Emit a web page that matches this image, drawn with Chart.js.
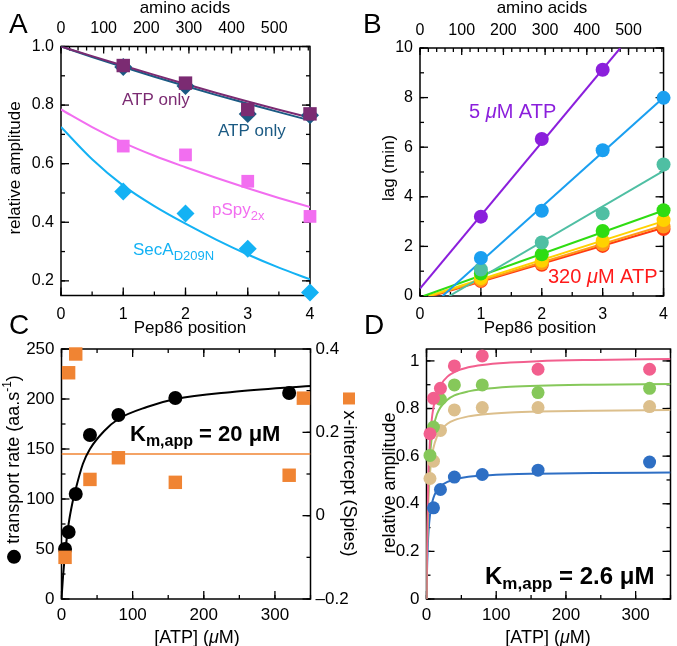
<!DOCTYPE html>
<html>
<head>
<meta charset="utf-8">
<script src="https://cdn.jsdelivr.net/npm/chart.js@4.4.1/dist/chart.umd.min.js"></script>
<style>
  body { margin: 0; background: #fff; }
  #page { position: relative; width: 677px; height: 646px; overflow: hidden; background: #fff; }
  #page canvas { position: absolute; }
</style>
</head>
<body>
<div id="page">
  <canvas id="cA" width="338" height="340" style="left:0;top:0"></canvas>
  <canvas id="cB" width="340" height="340" style="left:337px;top:0"></canvas>
  <canvas id="cC" width="365" height="346" style="left:0;top:300px"></canvas>
  <canvas id="cD" width="340" height="346" style="left:337px;top:300px"></canvas>
</div>
<script>
const FONT = "'Liberation Sans', Arial, Helvetica, sans-serif";
Chart.defaults.font.family = FONT;
Chart.defaults.color = "#000";
Chart.defaults.animation = false;

// ---------- data ----------
const pepPos = [1, 2, 3, 4];
const aaAxisMax = 584;

// panel A
const ampAtpSquare = [0.935, 0.875, 0.785, 0.77];
const ampAtpDiamond = [0.93, 0.865, 0.77, 0.765];
const ampSpy = [0.66, 0.63, 0.54, 0.42];
const ampSecA = [0.505, 0.43, 0.31, 0.16];
const fitPosA = [0, 0.5, 1, 1.5, 2, 2.5, 3, 3.5, 4];
const fitAtpSquare = [1.0, 0.967, 0.935, 0.903, 0.872, 0.841, 0.812, 0.784, 0.757];
const fitAtpDiamond = [1.0, 0.964, 0.93, 0.897, 0.865, 0.834, 0.805, 0.776, 0.748];
const fitSpy = [0.785, 0.725, 0.672, 0.627, 0.588, 0.551, 0.516, 0.483, 0.452];
const fitSecA = [0.725, 0.615, 0.525, 0.455, 0.395, 0.34, 0.29, 0.245, 0.205];

// panel B (lag vs position, one series per ATP concentration)
const lag5 = [3.2, 6.33, 9.12, null];
const lag10 = [1.53, 3.44, 5.88, 7.99];
const lag20 = [1.07, 2.16, 3.33, 5.3];
const lag40 = [0.91, 1.68, 2.62, 3.46];
const lag80 = [0.72, 1.42, 2.23, 3.06];
const lag160 = [0.64, 1.32, 2.08, 2.8];
const lag320 = [0.6, 1.26, 2.02, 2.7];
const lineX5 = [0, 3.29], lineY5 = [0.3, 10];
const lineX10 = [0.37, 4], lineY10 = [0, 8.0];
const lineX20 = [0.48, 4], lineY20 = [0, 5.05];
const lineX40 = [0.06, 4], lineY40 = [0, 3.45];
const lineX80 = [0.14, 4], lineY80 = [0, 3.02];
const lineX160 = [0.17, 4], lineY160 = [0, 2.84];
const lineX320 = [0.2, 4], lineY320 = [0, 2.75];

// panel C
const atpConc = [5, 10, 20, 40, 80, 160, 320];
const transportRate = [50, 67, 105, 164, 184, 201, 206];
const xInterConc = [5, 10, 20, 40, 80, 160, 320, 340];
const xIntercept = [-0.1, 0.343, 0.388, 0.087, 0.139, 0.08, 0.097, 0.282];
const xInterMean = 0.148;
const fitConcC = [0, 2, 5, 10, 15, 20, 30, 40, 60, 80, 120, 160, 240, 350];
const fitRate = [0, 21, 45, 75, 95, 110, 135, 150, 168, 180, 192, 200, 207, 213];

// panel D
const ampPink = [0.694, 0.843, 0.885, 0.979, 1.021, 0.965, 0.965];
const ampGreen = [0.603, 0.722, 0.839, 0.899, 0.899, 0.867, 0.885];
const ampTan = [0.506, 0.579, 0.708, 0.794, 0.804, 0.804, 0.808];
const ampBlue = [null, 0.383, 0.46, 0.512, 0.523, 0.541, 0.575];
const fitConcD = [0, 0.5, 1, 2, 3, 5, 7, 10, 15, 20, 30, 40, 60, 80, 120, 160, 240, 350];
const fitPink = [0, 0.164, 0.282, 0.441, 0.544, 0.668, 0.740, 0.806, 0.865, 0.898, 0.934, 0.953, 0.973, 0.983, 0.993, 0.999, 1.004, 1.008];
const fitGreen = [0, 0.147, 0.253, 0.396, 0.488, 0.599, 0.664, 0.722, 0.776, 0.805, 0.837, 0.855, 0.872, 0.881, 0.891, 0.896, 0.900, 0.903];
const fitTan = [0, 0.129, 0.222, 0.348, 0.429, 0.526, 0.583, 0.635, 0.682, 0.708, 0.736, 0.751, 0.767, 0.775, 0.783, 0.787, 0.791, 0.794];
const fitBlue = [0, 0.086, 0.149, 0.233, 0.287, 0.352, 0.390, 0.425, 0.456, 0.474, 0.492, 0.502, 0.513, 0.518, 0.524, 0.526, 0.529, 0.531];

// ---------- helpers ----------
const pts = (xs, ys) => xs.map((x, i) => ({ x, y: ys[i] })).filter(p => p.y != null);

function marks(label, xs, ys, color, style, r, extra) {
  return Object.assign({
    label, data: pts(xs, ys), backgroundColor: color, borderColor: color, borderWidth: 0,
    pointStyle: style, pointRadius: r, pointHoverRadius: r, showLine: false, order: 0, clip: false
  }, extra || {});
}
function curve(label, xs, ys, color, width, extra) {
  return Object.assign({
    label, data: pts(xs, ys), borderColor: color, backgroundColor: color, borderWidth: width || 2,
    pointRadius: 0, showLine: true, cubicInterpolationMode: "monotone", order: 1
  }, extra || {});
}
const fixW = w => ({ afterFit(s) { s.width = w; } });
const fixH = h => ({ afterFit(s) { s.height = h; } });
const noGrid = { display: false, drawTicks: false, tickLength: 0 };
const shortNum = v => String(+v.toFixed(1));

// inward ticks and box
const frame = {
  id: "frame",
  beforeDatasetsDraw(chart, args, o) {
    const ctx = chart.ctx, a = chart.chartArea;
    ctx.save();
    ctx.strokeStyle = "#000";
    ctx.lineWidth = 1.5;
    ctx.strokeRect(a.left, a.top, a.right - a.left, a.bottom - a.top);
    ctx.lineWidth = 1.3;
    ["left", "right", "top", "bottom"].forEach(side => {
      const t = o[side];
      if (!t) return;
      const s = chart.scales[t.scale];
      const lens = t.len || [8, 4];
      [[t.major, lens[0]], [t.minor, lens[1]]].forEach(([step, len]) => {
        if (!step) return;
        const i0 = Math.ceil(s.min / step - 1e-6), i1 = Math.floor(s.max / step + 1e-6);
        for (let i = i0; i <= i1; i++) {
          const p = s.getPixelForValue(i * step);
          ctx.beginPath();
          if (side === "left") { ctx.moveTo(a.left, p); ctx.lineTo(a.left + len, p); }
          if (side === "right") { ctx.moveTo(a.right, p); ctx.lineTo(a.right - len, p); }
          if (side === "top") { ctx.moveTo(p, a.top); ctx.lineTo(p, a.top + len); }
          if (side === "bottom") { ctx.moveTo(p, a.bottom); ctx.lineTo(p, a.bottom - len); }
          ctx.stroke();
        }
      });
    });
    ctx.restore();
  }
};

// free text (page coordinates), with subscripts and markers
function drawNote(ctx, it) {
  const size = it.size || 17;
  const segs = it.segs.map(s => (typeof s === "string" ? { t: s } : s));
  const fontOf = s => `${s.italic ? "italic " : ""}${it.bold ? "bold " : ""}${s.size || size}px ${FONT}`;
  const widthOf = s => {
    if (s.mark) return s.w;
    ctx.font = fontOf(s);
    return ctx.measureText(s.t).width;
  };
  ctx.save();
  ctx.translate(it.x, it.y);
  if (it.rot) ctx.rotate(it.rot * Math.PI / 180);
  ctx.textBaseline = it.rot ? "middle" : "alphabetic";
  const total = segs.reduce((w, s) => w + widthOf(s), 0);
  let x = it.align === "center" ? -total / 2 : 0;
  segs.forEach(s => {
    const w = widthOf(s);
    ctx.fillStyle = s.color || it.color || "#000";
    if (s.mark === "circle") {
      ctx.beginPath(); ctx.arc(x + w / 2, 0, s.r, 0, 2 * Math.PI); ctx.fill();
    } else if (s.mark === "square") {
      ctx.fillRect(x + w / 2 - s.r, -s.r, 2 * s.r, 2 * s.r);
    } else {
      ctx.font = fontOf(s);
      ctx.fillText(s.t, x, s.dy || 0);
    }
    x += w;
  });
  ctx.restore();
}
// items are kept out of chart options so the option resolver leaves them alone
function notes(items, dx, dy) {
  return {
    id: "notes",
    afterDraw(chart) {
      const ctx = chart.ctx;
      ctx.save();
      ctx.translate(-dx, -dy);
      items.forEach(it => drawNote(ctx, it));
      ctx.restore();
    }
  };
}

function baseOptions(extra) {
  return Object.assign({ responsive: false, devicePixelRatio: 1, animation: false, events: [] }, extra);
}
const tickFontAB = { size: 16 };
const tickFontCD = { size: 17 };
const MU = { t: "\u03bc", italic: true };
const hidden = { legend: { display: false }, tooltip: { enabled: false } };

// ---------- panel A ----------
new Chart(document.getElementById("cA"), {
  type: "scatter",
  data: {
    datasets: [
      marks("ATP only", pepPos, ampAtpSquare, "#7b2b72", "rect", 9.5),
      marks("ATP only (2)", pepPos, ampAtpDiamond, "#1b5a83", "rectRot", 9, { order: 0.5 }),
      marks("pSpy2x", pepPos, ampSpy, "#f26ef0", "rect", 9),
      marks("SecA D209N", pepPos, ampSecA, "#14b2f4", "rectRot", 9),
      curve("fit 1", fitPosA, fitAtpSquare, "#7b2b72", 2),
      curve("fit 2", fitPosA, fitAtpDiamond, "#1b5a83", 2),
      curve("fit 3", fitPosA, fitSpy, "#f26ef0", 2),
      curve("fit 4", fitPosA, fitSecA, "#14b2f4", 2)
    ]
  },
  options: baseOptions({
    layout: { padding: { right: 28 } },
    scales: {
      x: Object.assign({ type: "linear", position: "bottom", min: 0, max: 4, grid: noGrid, border: { display: false },
        ticks: { stepSize: 1, padding: 9, font: tickFontAB, maxRotation: 0, autoSkip: false } }, fixH(44.5)),
      xTop: Object.assign({ type: "linear", axis: "x", position: "top", min: 0, max: aaAxisMax, grid: noGrid, border: { display: false },
        ticks: { stepSize: 100, includeBounds: false, padding: 8, font: tickFontAB, maxRotation: 0, autoSkip: false } }, fixH(46.5)),
      y: Object.assign({ type: "linear", position: "left", min: 0.15, max: 1.0, grid: noGrid, border: { display: false },
        ticks: { stepSize: 0.2, includeBounds: false, padding: 7, font: tickFontAB, callback: v => v.toFixed(1) } }, fixW(61))
    },
    plugins: Object.assign({
      frame: {
        left: { scale: "y", major: 0.2, minor: 0.1 }, right: { scale: "y", major: 0.2, minor: 0.1 },
        bottom: { scale: "x", major: 1, minor: 0.5 }, top: { scale: "xTop", major: 100, minor: 20, len: [7, 4] }
      }
    }, hidden)
  }),
  plugins: [frame, notes([
    { x: 9, y: 33, size: 28, segs: ["A"] },
    { x: 185, y: 13, align: "center", segs: ["amino acids"] },
    { x: 190, y: 333, align: "center", segs: ["Pep86 position"] },
    { x: 15, y: 168, rot: -90, align: "center", segs: ["relative amplitude"] },
    { x: 122, y: 105, color: "#7b2b72", segs: ["ATP only"] },
    { x: 218, y: 136, color: "#1b5a83", segs: ["ATP only"] },
    { x: 212, y: 215, color: "#f26ef0", segs: ["pSpy", { t: "2x", size: 13, dy: 5 }] },
    { x: 133, y: 255, color: "#14b2f4", segs: ["SecA", { t: "D209N", size: 13, dy: 5 }] }
  ], 0, 0)]
});

// ---------- panel B ----------
const bSeries = [
  [lag5, lineX5, lineY5, "#8b1fdc"],
  [lag10, lineX10, lineY10, "#1a9ff0"],
  [lag20, lineX20, lineY20, "#4fbfa3"],
  [lag40, lineX40, lineY40, "#2fdc12"],
  [lag80, lineX80, lineY80, "#ffd200"],
  [lag160, lineX160, lineY160, "#ff9a1a"],
  [lag320, lineX320, lineY320, "#ff3a12"]
];
const bData = [];
bSeries.forEach(([ys, lx, ly, c], i) => {
  bData.push(marks("lag " + i, pepPos, ys, c, "circle", 7));
  bData.push(curve("line " + i, lx, ly, c, 2, { cubicInterpolationMode: "default", tension: 0 }));
});
new Chart(document.getElementById("cB"), {
  type: "scatter",
  data: { datasets: bData },
  options: baseOptions({
    layout: { padding: { right: 7 } },
    scales: {
      x: Object.assign({ type: "linear", position: "bottom", min: 0, max: 4, grid: noGrid, border: { display: false },
        ticks: { stepSize: 1, padding: 9, font: tickFontAB, maxRotation: 0, autoSkip: false } }, fixH(44)),
      xTop: Object.assign({ type: "linear", axis: "x", position: "top", min: 0, max: aaAxisMax, grid: noGrid, border: { display: false },
        ticks: { stepSize: 100, includeBounds: false, padding: 8, font: tickFontAB, maxRotation: 0, autoSkip: false } }, fixH(48)),
      y: Object.assign({ type: "linear", position: "left", min: 0, max: 10, grid: noGrid, border: { display: false },
        ticks: { stepSize: 2, padding: 7, font: tickFontAB } }, fixW(83))
    },
    plugins: Object.assign({
      frame: {
        left: { scale: "y", major: 2, minor: 1 }, right: { scale: "y", major: 2, minor: 1 },
        bottom: { scale: "x", major: 1, minor: 0.5 }, top: { scale: "xTop", major: 100, minor: 20, len: [7, 4] }
      }
    }, hidden)
  }),
  plugins: [frame, notes([
    { x: 363, y: 33, size: 28, segs: ["B"] },
    { x: 542, y: 13, align: "center", segs: ["amino acids"] },
    { x: 540, y: 333, align: "center", segs: ["Pep86 position"] },
    { x: 389, y: 168, rot: -90, align: "center", segs: ["lag (min)"] },
    { x: 469, y: 118, size: 20, color: "#8b1fdc", segs: ["5 ", MU, "M ATP"] },
    { x: 548, y: 283, size: 20, color: "#ff1a1a", segs: ["320 ", MU, "M ATP"] }
  ], 337, 0)]
});

// ---------- panel C ----------
new Chart(document.getElementById("cC"), {
  type: "scatter",
  data: {
    datasets: [
      marks("transport rate", atpConc, transportRate, "#000", "circle", 7, { order: 0.5 }),
      marks("x-intercept", xInterConc, xIntercept, "#f08433", "rect", 9.5, { yAxisID: "y2" }),
      curve("rate fit", fitConcC, fitRate, "#000", 2),
      curve("x-intercept mean", [0, 350], [xInterMean, xInterMean], "#f08433", 1.5, { yAxisID: "y2", cubicInterpolationMode: "default" })
    ]
  },
  options: baseOptions({
    layout: { padding: { top: 49 } },
    scales: {
      x: Object.assign({ type: "linear", position: "bottom", min: 0, max: 350, grid: noGrid, border: { display: false },
        ticks: { stepSize: 100, includeBounds: false, padding: 6, font: tickFontCD, maxRotation: 0, autoSkip: false } }, fixH(47)),
      y: Object.assign({ type: "linear", position: "left", min: 0, max: 250, grid: noGrid, border: { display: false },
        ticks: { stepSize: 50, padding: 7, font: tickFontCD } }, fixW(61.5)),
      y2: Object.assign({ type: "linear", position: "right", min: -0.2, max: 0.4, grid: noGrid, border: { display: false },
        ticks: { stepSize: 0.2, padding: 5, font: tickFontCD,
          callback: v => (Math.abs(v) < 1e-9 ? "0" : (v < 0 ? "\u2013" : "") + Math.abs(v).toFixed(1)) } }, fixW(54.5))
    },
    plugins: Object.assign({
      frame: {
        left: { scale: "y", major: 50, minor: 25 }, right: { scale: "y2", major: 0.2, minor: 0.1 },
        bottom: { scale: "x", major: 100, minor: 50 }, top: { scale: "x", major: 100, minor: 50 }
      }
    }, hidden)
  }),
  plugins: [frame, notes([
    { x: 9, y: 334, size: 28, segs: ["C"] },
    { x: 197, y: 643, size: 18, align: "center", segs: ["[ATP] (", MU, "M)"] },
    { x: 14, y: 470, rot: -90, size: 18, align: "center",
      segs: [{ mark: "circle", r: 7, w: 16 }, " transport rate (aa.s", { t: "-1", size: 12, dy: -6 }, ")"] },
    { x: 349, y: 474, rot: 90, size: 18, align: "center",
      segs: [{ mark: "square", r: 6, w: 14, color: "#f08433" }, " x-intercept (Spies)"] },
    { x: 130, y: 441, size: 22, bold: true, segs: ["K", { t: "m,app", size: 16, dy: 5 }, " = 20 \u03bcM"] }
  ], 0, 300)]
});

// ---------- panel D ----------
new Chart(document.getElementById("cD"), {
  type: "scatter",
  data: {
    datasets: [
      marks("pink", atpConc, ampPink, "#f25f8e", "circle", 6.5),
      marks("green", atpConc, ampGreen, "#86c85a", "circle", 6.5),
      marks("tan", atpConc, ampTan, "#dcbf8c", "circle", 6.5),
      marks("blue", atpConc, ampBlue, "#2e6fc4", "circle", 6.5),
      curve("pink fit", fitConcD, fitPink, "#f25f8e", 2),
      curve("green fit", fitConcD, fitGreen, "#86c85a", 2),
      curve("tan fit", fitConcD, fitTan, "#dcbf8c", 2),
      curve("blue fit", fitConcD, fitBlue, "#2e6fc4", 2)
    ]
  },
  options: baseOptions({
    layout: { padding: { top: 49, right: 3 } },
    scales: {
      x: Object.assign({ type: "linear", position: "bottom", min: 0, max: 350, grid: noGrid, border: { display: false },
        ticks: { stepSize: 100, includeBounds: false, padding: 6, font: tickFontCD, maxRotation: 0, autoSkip: false } }, fixH(47)),
      y: Object.assign({ type: "linear", position: "left", min: 0, max: 1.05, grid: noGrid, border: { display: false },
        ticks: { stepSize: 0.2, includeBounds: false, padding: 7, font: tickFontCD, callback: shortNum } }, fixW(89.5))
    },
    plugins: Object.assign({
      frame: {
        left: { scale: "y", major: 0.2, minor: 0.1 }, right: { scale: "y", major: 0.2, minor: 0.1 },
        bottom: { scale: "x", major: 100, minor: 50 }, top: { scale: "x", major: 100, minor: 50 }
      }
    }, hidden)
  }),
  plugins: [frame, notes([
    { x: 364, y: 334, size: 28, segs: ["D"] },
    { x: 548, y: 643, size: 18, align: "center", segs: ["[ATP] (", MU, "M)"] },
    { x: 390, y: 483, rot: -90, size: 18, align: "center", segs: ["relative amplitude"] },
    { x: 485, y: 584, size: 24, bold: true, segs: ["K", { t: "m,app", size: 17, dy: 5 }, " = 2.6 \u03bcM"] }
  ], 337, 300)]
});
</script>
</body>
</html>
